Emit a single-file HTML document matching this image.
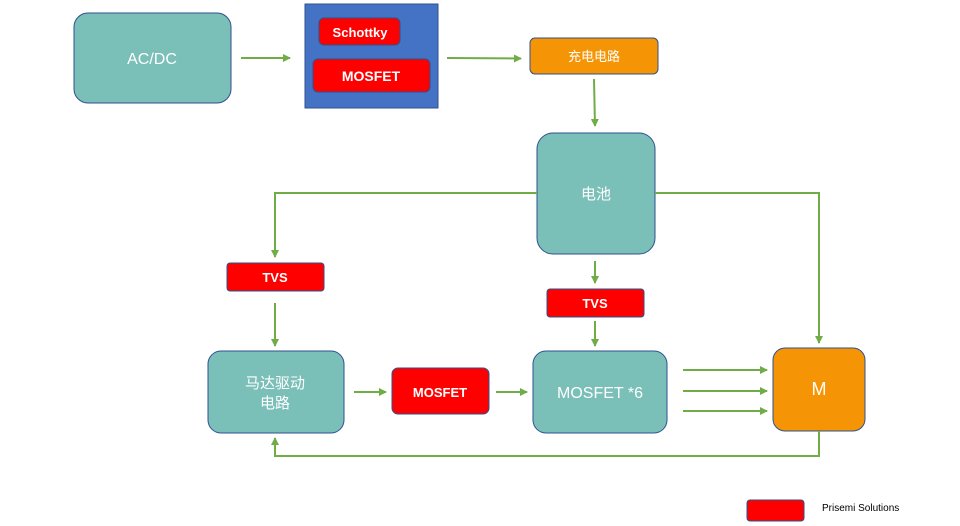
<!DOCTYPE html>
<html><head><meta charset="utf-8"><style>
html,body{margin:0;padding:0;background:#fff;}
svg{display:block;font-family:"Liberation Sans","Noto Sans CJK SC",sans-serif;}
</style></head><body>
<svg width="960" height="526" viewBox="0 0 960 526" xmlns="http://www.w3.org/2000/svg">
<defs>
<marker id="a" markerWidth="8" markerHeight="8" refX="7" refY="4" orient="auto" markerUnits="userSpaceOnUse">
<path d="M0,0 L8,4 L0,8 z" fill="#70ad47"/></marker>
</defs>
<g stroke="#2f528f" stroke-width="1">
<rect x="74" y="13" width="157" height="90" rx="14" fill="#7abfb8"/>
<rect x="305" y="4" width="133" height="104" fill="#4472c4"/>
<rect x="319" y="18" width="81" height="27" rx="5" fill="#ff0000"/>
<rect x="313" y="59" width="117" height="33" rx="5" fill="#ff0000"/>
<rect x="530" y="38" width="128" height="36" rx="5" fill="#f59505"/>
<rect x="537" y="133" width="118" height="121" rx="16" fill="#7abfb8"/>
<rect x="227" y="263" width="97" height="28" rx="3" fill="#ff0000"/>
<rect x="547" y="289" width="97" height="28" rx="3" fill="#ff0000"/>
<rect x="208" y="351" width="136" height="82" rx="13" fill="#7abfb8"/>
<rect x="392" y="368" width="97" height="46" rx="6" fill="#ff0000"/>
<rect x="533" y="351" width="134" height="82" rx="13" fill="#7abfb8"/>
<rect x="773" y="348" width="92" height="83" rx="12" fill="#f59505"/>
<rect x="747" y="500" width="57" height="21" rx="3" fill="#ff0000"/>
</g>
<g stroke="#70ad47" stroke-width="2" fill="none">
<line x1="241" y1="58" x2="290" y2="58" marker-end="url(#a)"/>
<line x1="447" y1="58" x2="521" y2="58.5" marker-end="url(#a)"/>
<line x1="594" y1="79" x2="595" y2="126" marker-end="url(#a)"/>
<polyline points="537,193 275,193 275,257" marker-end="url(#a)"/>
<polyline points="655,193 819,193 819,343" marker-end="url(#a)"/>
<line x1="595" y1="261" x2="595" y2="283" marker-end="url(#a)"/>
<line x1="275" y1="303" x2="275" y2="346" marker-end="url(#a)"/>
<line x1="595" y1="321" x2="595" y2="346" marker-end="url(#a)"/>
<line x1="354" y1="392" x2="386" y2="392" marker-end="url(#a)"/>
<line x1="496" y1="392" x2="527" y2="392" marker-end="url(#a)"/>
<line x1="683" y1="370" x2="767" y2="370" marker-end="url(#a)"/>
<line x1="683" y1="391" x2="767" y2="391" marker-end="url(#a)"/>
<line x1="683" y1="411" x2="767" y2="411" marker-end="url(#a)"/>
<polyline points="819,431 819,456 275,456 275,438" marker-end="url(#a)"/>
</g>
<g fill="#fff" text-anchor="middle">
<text x="152" y="64" font-size="16">AC/DC</text>
<text x="360" y="37" font-size="13" font-weight="bold">Schottky</text>
<text x="371" y="81" font-size="14" font-weight="bold">MOSFET</text>
<text x="594" y="61" font-size="13">充电电路</text>
<text x="596" y="199" font-size="15">电池</text>
<text x="275" y="282" font-size="13" font-weight="bold">TVS</text>
<text x="595" y="308" font-size="13" font-weight="bold">TVS</text>
<text x="275" y="388" font-size="15">马达驱动</text>
<text x="275" y="408" font-size="15">电路</text>
<text x="440" y="397" font-size="13" font-weight="bold">MOSFET</text>
<text x="600" y="398" font-size="16">MOSFET *6</text>
<text x="819" y="395" font-size="18">M</text>
</g>
<text x="822" y="511" font-size="10" fill="#000">Prisemi Solutions</text>
</svg>
</body></html>
